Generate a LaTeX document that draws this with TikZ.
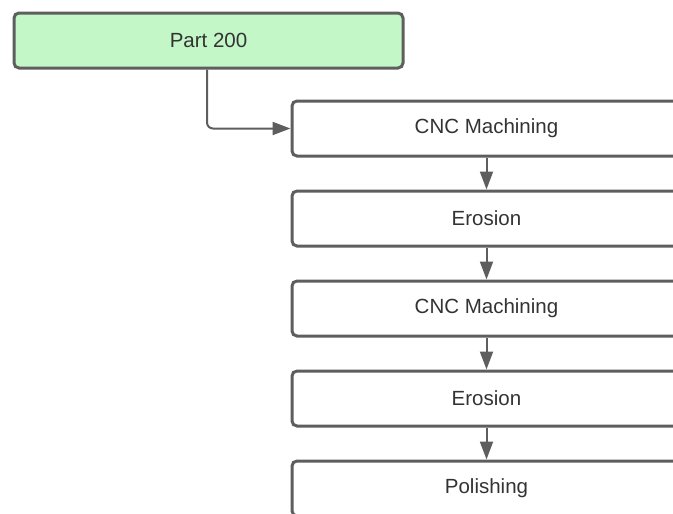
\documentclass[tikz,border=0pt]{standalone}
\usepackage{fontspec}
\setmainfont{Liberation Sans}
\usetikzlibrary{arrows.meta}
\definecolor{edgegray}{HTML}{5E5E5E}
\definecolor{partgreen}{HTML}{C3F7C8}
\definecolor{txtgray}{HTML}{333333}
\begin{document}
\begin{tikzpicture}[x=1pt,y=-1pt,
  stepbox/.style={draw=edgegray, line width=3pt, rounded corners=5pt, fill=white,
    minimum width=389pt, minimum height=55pt, inner sep=0pt, anchor=north west,
    text=txtgray, font=\fontsize{20.5pt}{24pt}\selectfont},
  flow/.style={draw=edgegray, line width=2pt, rounded corners=6pt,
    -{Triangle[length=18pt,width=13pt]}}]
  \useasboundingbox (0,0) rectangle (673,514);
  \node[stepbox, fill=partgreen] (part) at (12.5,11.5) {Part 200};
  \node[stepbox] (cnc1) at (290.5,99.5) {CNC Machining};
  \node[stepbox] (ero1) at (290.5,189.5) {Erosion};
  \node[stepbox] (cnc2) at (290.5,279.5) {CNC Machining};
  \node[stepbox] (ero2) at (290.5,369.5) {Erosion};
  \node[stepbox] (pol) at (290.5,459.5) {Polishing};
  \draw[flow] (part.south -| 207,0) |- (cnc1.west);
  \draw[flow] (cnc1) -- (ero1);
  \draw[flow] (ero1) -- (cnc2);
  \draw[flow] (cnc2) -- (ero2);
  \draw[flow] (ero2) -- (pol);
\end{tikzpicture}
\end{document}
